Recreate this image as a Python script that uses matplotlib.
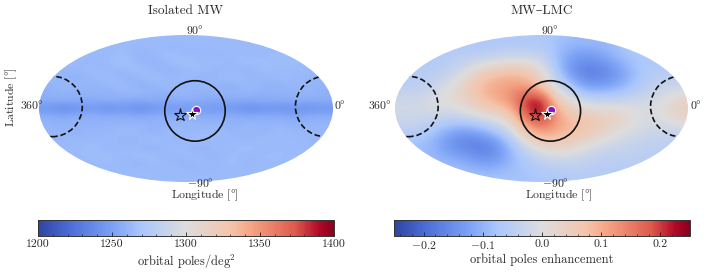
import numpy as np
import matplotlib
matplotlib.use("Agg")
import matplotlib.pyplot as plt
from matplotlib.colors import LinearSegmentedColormap, Normalize
from matplotlib.patches import Ellipse
from matplotlib.cm import ScalarMappable

plt.rcParams['font.family'] = ['cmr10', 'DejaVu Serif']
plt.rcParams['mathtext.fontset'] = 'cm'
plt.rcParams['axes.formatter.use_mathtext'] = True
plt.rcParams['axes.unicode_minus'] = False
TXT = '#2a2a2a'

# Rows run from latitude-like +90 to -90 in 10 deg steps; columns run across the map in 20 deg steps.
isolated_poles = np.array([
 [1264,1264,1264,1264,1264,1264,1264,1264,1264,1264,1264,1264,1264,1264,1264,1264,1264,1264,1264],
 [1264,1264,1264,1264,1264,1264,1262,1265,1261,1264,1262,1265,1263,1264,1264,1264,1264,1264,1264],
 [1264,1264,1264,1264,1262,1266,1260,1263,1267,1261,1265,1260,1266,1262,1264,1264,1264,1264,1264],
 [1264,1264,1264,1261,1265,1268,1262,1259,1265,1268,1262,1266,1261,1268,1263,1266,1264,1264,1264],
 [1262,1262,1262,1266,1260,1263,1267,1262,1259,1263,1266,1260,1264,1259,1267,1262,1265,1262,1262],
 [1262,1262,1258,1263,1267,1259,1262,1266,1261,1265,1259,1263,1267,1262,1260,1266,1261,1263,1262],
 [1260,1262,1264,1259,1262,1266,1258,1262,1265,1259,1264,1261,1257,1264,1262,1258,1264,1260,1260],
 [1258,1261,1257,1262,1259,1261,1264,1258,1260,1263,1258,1262,1260,1262,1257,1261,1259,1262,1258],
 [1257,1256,1258,1255,1258,1256,1254,1257,1255,1258,1256,1254,1256,1254,1257,1255,1258,1256,1257],
 [1244,1238,1241,1247,1240,1246,1238,1244,1247,1245,1248,1244,1246,1239,1241,1243,1240,1242,1244],
 [1258,1255,1258,1260,1256,1258,1255,1259,1257,1255,1258,1256,1259,1255,1258,1257,1255,1257,1258],
 [1261,1259,1262,1258,1262,1260,1263,1259,1261,1264,1260,1262,1258,1263,1260,1262,1258,1261,1261],
 [1262,1262,1258,1264,1260,1266,1262,1259,1265,1261,1263,1266,1260,1264,1259,1266,1262,1262,1262],
 [1262,1262,1264,1261,1266,1259,1263,1267,1260,1264,1267,1261,1265,1260,1266,1262,1264,1262,1262],
 [1263,1263,1263,1267,1260,1265,1262,1259,1266,1262,1259,1265,1262,1267,1261,1265,1263,1263,1263],
 [1264,1264,1264,1264,1266,1262,1267,1264,1261,1266,1263,1260,1266,1262,1265,1264,1264,1264,1264],
 [1264,1264,1264,1264,1264,1263,1260,1266,1263,1260,1265,1262,1266,1261,1264,1264,1264,1264,1264],
 [1264,1264,1264,1264,1264,1264,1264,1262,1265,1263,1261,1264,1263,1264,1264,1264,1264,1264,1264],
 [1264,1264,1264,1264,1264,1264,1264,1264,1264,1264,1264,1264,1264,1264,1264,1264,1264,1264,1264],
])
# Rows run from +90 to -90 in 20 deg steps for this panel.
lmc_enhancement = np.array([
 [-.06,-.06,-.06,-.06,-.07,-.07,-.07,-.07,-.07,-.07,-.08,-.09,-.09,-.09,-.08,-.07,-.07,-.07,-.07],
 [-.06,-.06,-.06,-.06,-.05,-.05,-.04,-.03,-.03,-.03,-.09,-.13,-.14,-.12,-.09,-.07,-.07,-.07,-.07],
 [-.06,-.06,-.06,-.04,-.01, .04, .07, .08, .07, .02,-.07,-.15,-.18,-.17,-.14,-.09,-.06,-.06,-.06],
 [-.05,-.05,-.03, .00, .04, .09, .11, .12, .12, .06,-.02,-.08,-.13,-.13,-.11,-.08,-.05,-.03,-.03],
 [-.02,-.02, .00, .01, .03, .07, .10, .13, .22, .25, .06, .01,-.03,-.03,-.03,-.02,-.01, .00, .04],
 [-.02,-.02,-.02,-.03,-.02, .00, .02, .05, .18, .23, .12, .07, .06, .05, .04, .01,-.01, .01, .04],
 [-.05,-.05,-.08,-.11,-.13,-.11,-.07,-.02, .08, .13, .11, .09, .07, .04, .01,-.01,-.02,-.03,-.03],
 [-.08,-.09,-.10,-.15,-.17,-.18,-.16,-.09,-.02, .03, .04, .03, .00,-.02,-.03,-.04,-.05,-.05,-.05],
 [-.09,-.09,-.09,-.10,-.11,-.14,-.14,-.10,-.07,-.04,-.03,-.03,-.04,-.05,-.05,-.05,-.05,-.05,-.05],
 [-.08,-.08,-.08,-.08,-.08,-.08,-.08,-.08,-.08,-.07,-.07,-.06,-.06,-.06,-.06,-.06,-.06,-.06,-.06],
])
panel_titles = ['Isolated MW', 'MW\u2013LMC']
cbar_labels = ['orbital poles/deg$^2$', 'orbital poles enhancement']
cbar_ranges = [(1200, 1400), (-0.25, 0.25)]
cbar_ticks = [[1200, 1250, 1300, 1350, 1400], [-0.2, -0.1, 0.0, 0.1, 0.2]]
cbar_minor = [list(range(1200, 1401, 10)), list(np.arange(-0.24, 0.25, 0.02))]
cbar_ticklabels = [['1200', '1250', '1300', '1350', '1400'],
                   ['$-0.2$', '$-0.1$', '0.0', '0.1', '0.2']]
circle_center = (11, -3)
circle_radius = 37
arc_centers = [(-164, 2.5), (171, 2.5)]
star_open = [(-7, -7.5), (-8, -7.5)]
star_white = (7.2, -6.8)
purple_point = (12, -2)

cmap = LinearSegmentedColormap.from_list('cw', [
    (0, '#2f459f'), (0.1, '#4a6bd6'), (0.25, '#7ba1f5'), (0.35, '#abc7fd'),
    (0.5, '#dddddd'), (0.65, '#f4c4ab'), (0.72, '#f5a585'), (0.87, '#dd5a4c'),
    (0.95, '#b00a28'), (1, '#8a001c')])

W, H = 706, 274
fig = plt.figure(figsize=(W/100, H/100), dpi=100)

def box(x0, y0, x1, y1):
    return [x0/W, 1-y1/H, (x1-x0)/W, (y1-y0)/H]

maps = [box(39, 35, 333, 182), box(395, 35, 688, 182)]
bars = [box(38, 220, 334, 236), box(394, 220, 690, 236)]
fields = [isolated_poles, lmc_enhancement]
label_px = [dict(title=186, n90=195, s90=200, lon=204.5, w360=44, e0=334),
            dict(title=542, n90=549.7, s90=555, lon=559, w360=392, e0=690)]
cbar_pad = [3, 1.5]

for i in range(2):
    ax = fig.add_axes(maps[i])
    ax.set_xlim(-180, 180); ax.set_ylim(-90, 90)
    ax.axis('off')
    norm = Normalize(*cbar_ranges[i])
    im = ax.imshow(fields[i], extent=(-180, 180, -90, 90), origin='upper', aspect='auto',
                   cmap=cmap, norm=norm, interpolation='bicubic')
    clip = Ellipse((0, 0), 360, 180, transform=ax.transData, fc='none', ec='none')
    ax.add_patch(clip)
    im.set_clip_path(clip)
    ax.add_patch(Ellipse(circle_center, 2*circle_radius, 2*circle_radius*294/360*180/147,
                         fc='none', ec='#111111', lw=1.2))
    for c in arc_centers:
        arc = Ellipse(c, 2*circle_radius, 2*circle_radius*294/360*180/147,
                      fc='none', ec='#111111', lw=1.2, ls=(0, (3.4, 1.7)))
        ax.add_patch(arc)
        arc.set_clip_path(clip)
    ax.plot(*purple_point, 'o', ms=6.0, mfc='#8a10c8', mec='white', mew=0.8, zorder=5)
    ax.plot(*star_white, '*', ms=8.5, mfc='black', mec='white', mew=0.8, zorder=6)
    ax.plot(*star_open[i], '*', ms=9.5, mfc='none', mec='#111111', mew=0.8, zorder=6)

    p = label_px[i]
    fig.text(p['title']/W, 1-10.5/H, panel_titles[i], ha='center', va='center', fontsize=9.5, color=TXT)
    fig.text(p['n90']/W, 1-30/H, r'$90\degree$', ha='center', va='center', fontsize=8.5, color=TXT)
    fig.text(p['s90']/W, 1-182.5/H, r'$-90\degree$', ha='center', va='center', fontsize=8.5, color=TXT)
    fig.text(p['lon']/W, 1-195.5/H, 'Longitude [$\\degree$]', ha='center', va='center', fontsize=8.5, color=TXT)
    fig.text(p['w360']/W, 1-104.5/H, r'$360\degree$', ha='right', va='center', fontsize=8.5, color=TXT)
    fig.text(p['e0']/W, 1-104.5/H, r'$0\degree$', ha='left', va='center', fontsize=8.5, color=TXT)

    cax = fig.add_axes(bars[i])
    cb = fig.colorbar(ScalarMappable(norm=norm, cmap=cmap), cax=cax, orientation='horizontal')
    cb.set_ticks(cbar_ticks[i]); cb.set_ticklabels(cbar_ticklabels[i])
    cax.set_xticks(cbar_minor[i], minor=True)
    cax.tick_params(which='major', direction='in', length=3.2, width=0.6, labelsize=8.5,
                    labelcolor=TXT, color='#222222', pad=2.5)
    cax.tick_params(which='minor', direction='in', length=1.6, width=0.5, color='#222222')
    cb.outline.set_linewidth(0.7)
    cb.outline.set_edgecolor('#333333')
    cb.set_label(cbar_labels[i], fontsize=9, color=TXT, labelpad=cbar_pad[i])

fig.text(11/W, 1-97.5/H, 'Latitude [$\\degree$]', rotation=90, ha='center', va='center', fontsize=8.5, color=TXT)
fig.savefig('out.png', dpi=100)
